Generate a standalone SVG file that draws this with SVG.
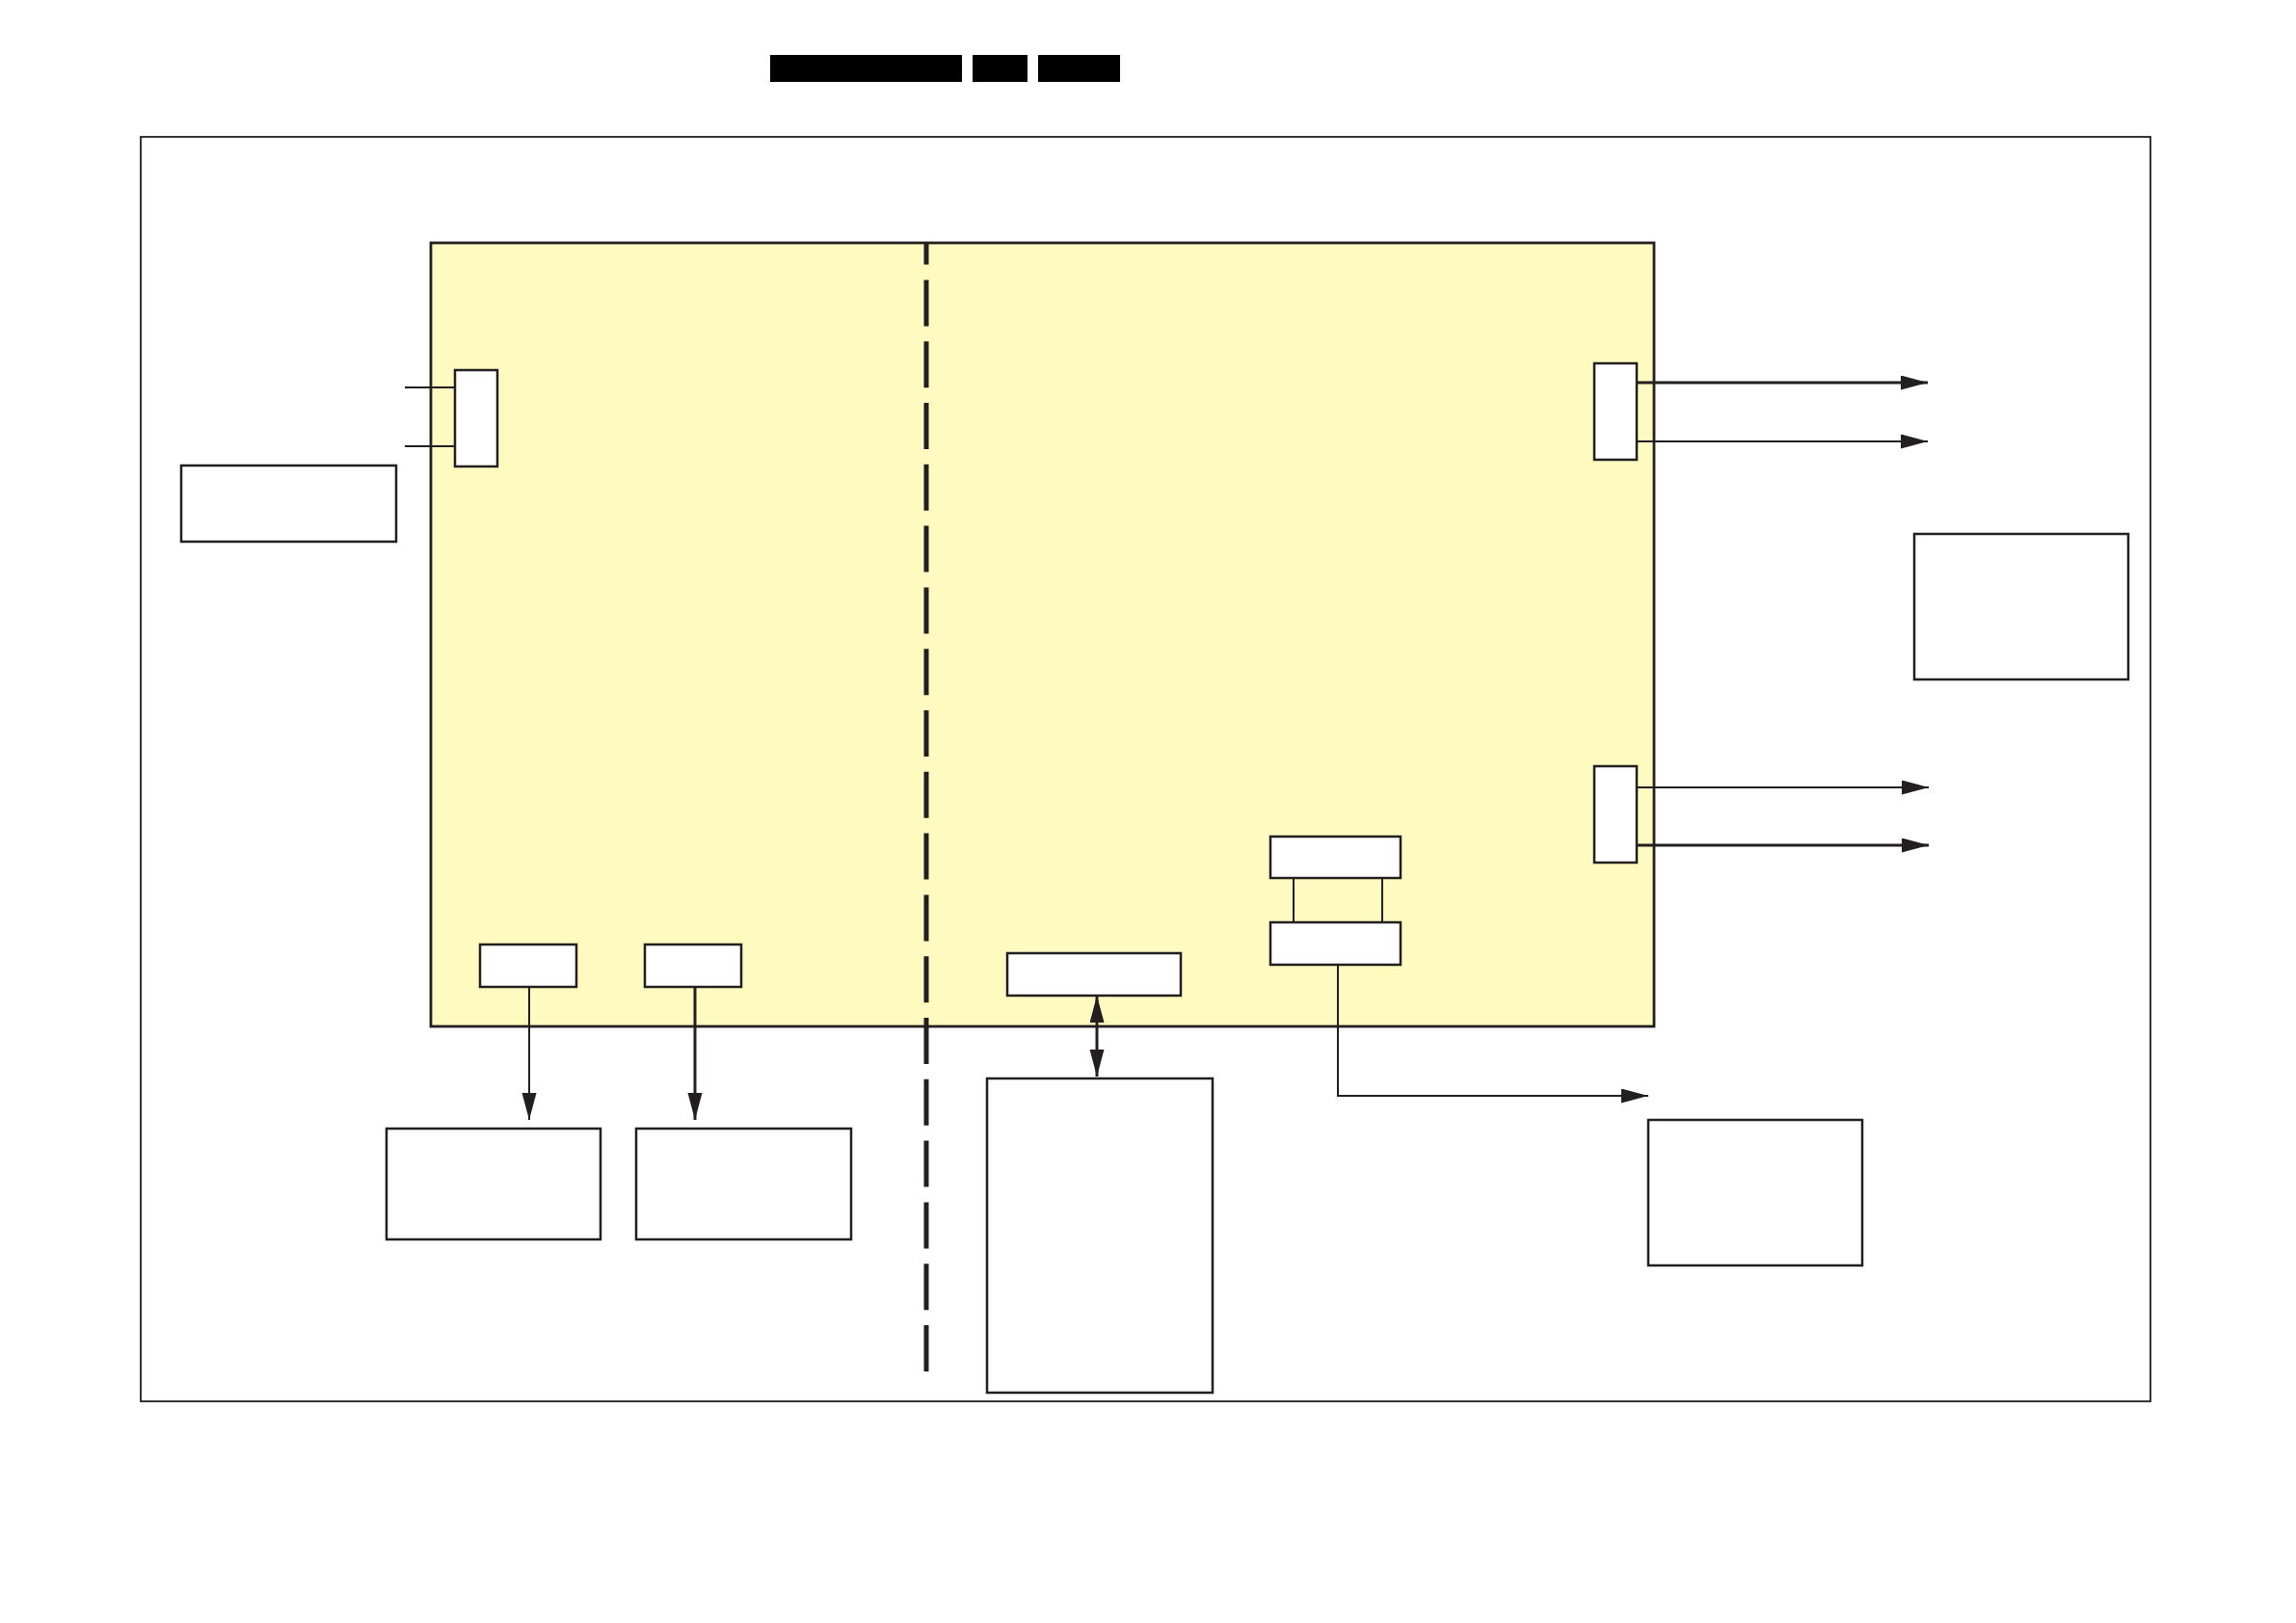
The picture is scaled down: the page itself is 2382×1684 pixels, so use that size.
<svg xmlns="http://www.w3.org/2000/svg" width="2382" height="1684" viewBox="0 0 2382 1684">
<style>
.box{fill:#ffffff;stroke:#231f20;stroke-width:2.5}
.frame{fill:none;stroke:#231f20;stroke-width:1.8}
.panel{fill:#fffac0;stroke:#231f20;stroke-width:2.8}
.bar{fill:#000000}
.ln{fill:none;stroke:#231f20;stroke-width:2}
.lnb{fill:none;stroke:#231f20;stroke-width:3}
.arr{marker-end:url(#ah)}
</style>
<defs>
<marker id="ah" markerUnits="userSpaceOnUse" markerWidth="30" markerHeight="16" refX="28" refY="7.5" orient="auto-start-reverse">
<path d="M0,0 L28,7.5 L0,15 z" fill="#231f20"/>
</marker>
</defs>
<rect width="2382" height="1684" fill="#ffffff"/>
<g id="header">
<rect class="bar" x="799" y="57" width="199" height="28"/>
<rect class="bar" x="1009" y="57" width="57" height="28"/>
<rect class="bar" x="1077" y="57" width="85" height="28"/>
</g>
<rect id="frame" class="frame" x="146" y="142" width="2085" height="1312"/>
<g id="panel"><rect class="panel" x="447" y="252" width="1269" height="813"/></g>
<line id="divider" x1="961" y1="253" x2="961" y2="1425" stroke="#231f20" stroke-width="5" stroke-dasharray="48 15.8" stroke-dashoffset="26.4"/>
<g id="connectors">
<line class="ln" x1="420" y1="402" x2="472" y2="402"/>
<line class="ln" x1="420" y1="463" x2="472" y2="463"/>
<line class="lnb arr" x1="1698" y1="397" x2="2000" y2="397"/>
<line class="ln arr" x1="1698" y1="458" x2="2000" y2="458"/>
<line class="ln arr" x1="1698" y1="817" x2="2001" y2="817"/>
<line class="lnb arr" x1="1698" y1="877" x2="2001" y2="877"/>
<line class="ln" x1="1342" y1="911" x2="1342" y2="957"/>
<line class="ln" x1="1434" y1="911" x2="1434" y2="957"/>
<path class="ln arr" d="M1388,1001 V1137 H1710"/>
<line class="ln arr" x1="549" y1="1024" x2="549" y2="1162"/>
<line class="lnb arr" x1="721" y1="1024" x2="721" y2="1162"/>
<line class="lnb" x1="1138" y1="1033" x2="1138" y2="1117" marker-start="url(#ah)" marker-end="url(#ah)"/>
</g>
<g id="conn-left"><rect class="box" x="472" y="384" width="44" height="100"/></g>
<g id="box-left"><rect class="box" x="188" y="483" width="223" height="79"/></g>
<g id="conn-right-top"><rect class="box" x="1654" y="377" width="44" height="100"/></g>
<g id="conn-right-bottom"><rect class="box" x="1654" y="795" width="44" height="100"/></g>
<g id="box-right"><rect class="box" x="1986" y="554" width="222" height="151"/></g>
<g id="stack-top"><rect class="box" x="1318" y="868" width="135" height="43"/></g>
<g id="stack-bottom"><rect class="box" x="1318" y="957" width="135" height="44"/></g>
<g id="box-bottom-right"><rect class="box" x="1710" y="1162" width="222" height="151"/></g>
<g id="small-1"><rect class="box" x="498" y="980" width="100" height="44"/></g>
<g id="small-2"><rect class="box" x="669" y="980" width="100" height="44"/></g>
<g id="box-bottom-1"><rect class="box" x="401" y="1171" width="222" height="115"/></g>
<g id="box-bottom-2"><rect class="box" x="660" y="1171" width="223" height="115"/></g>
<g id="mid-small"><rect class="box" x="1045" y="989" width="180" height="44"/></g>
<g id="mid-tall"><rect class="box" x="1024" y="1119" width="234" height="326"/></g>
</svg>
